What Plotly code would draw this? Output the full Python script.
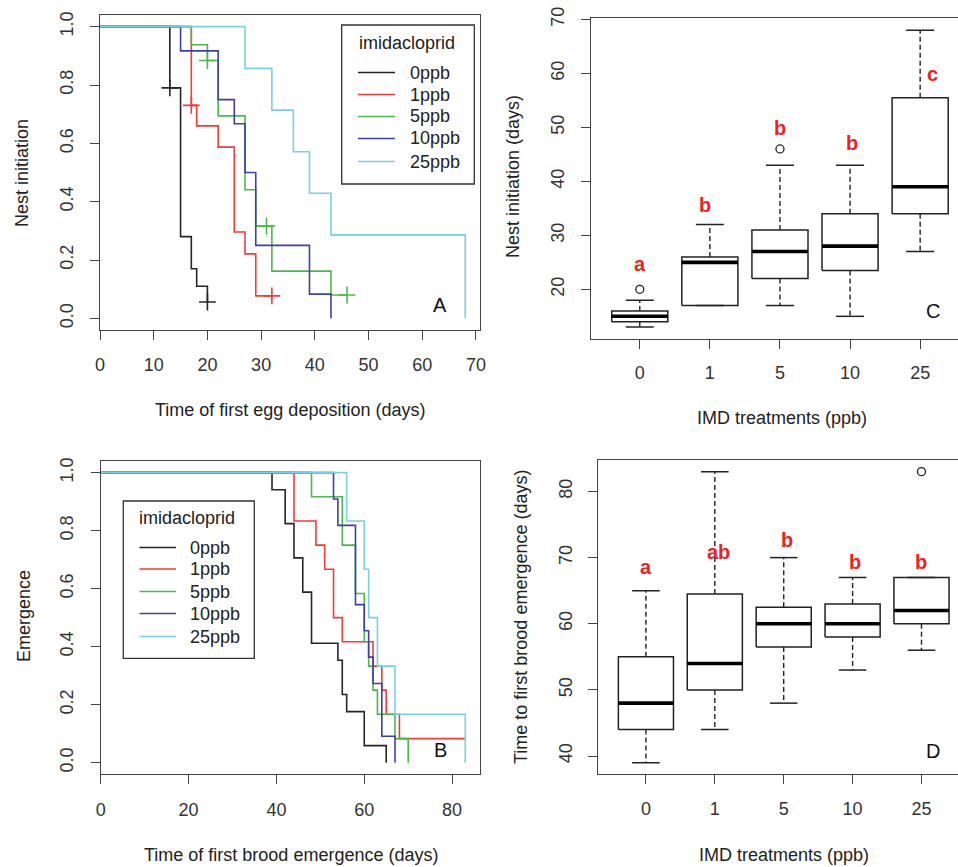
import plotly.graph_objects as go

W, H = 958, 867
FONT = "Liberation Sans, Arial, Helvetica, sans-serif"

# ---------------- data ----------------
doses = ["0ppb", "1ppb", "5ppb", "10ppb", "25ppb"]
colors = ["#262626", "#f03c3c", "#4cb84c", "#3f3fa8", "#78d0e0"]

# Panel A: Kaplan-Meier, time of first egg deposition
a_times = [
    [0, 13, 15, 17, 18, 20],
    [0, 17, 18, 22, 25, 27, 29, 32],
    [0, 17, 20, 22, 27, 29, 32, 43, 46],
    [0, 15, 22, 25, 27, 29, 39, 43],
    [0, 27, 32, 36, 39, 43, 68],
]
a_surv = [
    [1, 0.79, 0.28, 0.17, 0.11, 0.056],
    [1, 0.73, 0.66, 0.587, 0.296, 0.221, 0.077, 0.077],
    [1, 0.938, 0.884, 0.694, 0.441, 0.316, 0.162, 0.080, 0.080],
    [1, 0.917, 0.75, 0.667, 0.5, 0.25, 0.083, 0.0],
    [1, 0.857, 0.714, 0.571, 0.429, 0.286, 0.0],
]
a_cens_t = [[13, 20], [17, 32], [20, 31, 46], [], []]
a_cens_s = [[0.79, 0.056], [0.73, 0.077], [0.884, 0.316, 0.080], [], []]

# Panel B: Kaplan-Meier, time of first brood emergence
b_times = [
    [0, 39, 42, 44, 46, 48, 54, 55, 56, 60, 65],
    [0, 44, 49, 51, 53, 55, 62, 64, 65, 68, 83],
    [0, 48, 55, 58, 60, 61, 62, 63, 67, 70],
    [0, 53, 54, 58, 60, 61, 62, 64, 67],
    [0, 56, 60, 61, 63, 67, 83],
]
b_surv = [
    [1, 0.941, 0.824, 0.706, 0.588, 0.412, 0.353, 0.235, 0.176, 0.059, 0.0],
    [1, 0.833, 0.75, 0.667, 0.5, 0.417, 0.333, 0.25, 0.167, 0.083, 0.083],
    [1, 0.917, 0.75, 0.583, 0.417, 0.333, 0.25, 0.167, 0.083, 0.0],
    [1, 0.909, 0.818, 0.545, 0.455, 0.364, 0.273, 0.091, 0.0],
    [1, 0.833, 0.667, 0.5, 0.333, 0.167, 0.0],
]

# Panel C: boxplots nest initiation (days)
treatments = ["0", "1", "5", "10", "25"]
c_low = [13, 17, 17, 15, 27]
c_q1 = [14, 17, 22, 23.5, 34]
c_med = [15, 25, 27, 28, 39]
c_q3 = [16, 26, 31, 34, 55.5]
c_high = [18, 32, 43, 43, 68]
c_out_x = [1, 3]
c_out_y = [20, 46]
c_letters = ["a", "b", "b", "b", "c"]
c_letter_x = [1, 1.93, 3, 4.03, 5.17]
c_letter_y = [24.7, 35.7, 49.9, 47.1, 59.8]

# Panel D: boxplots time to first brood emergence (days)
d_low = [39, 44, 48, 53, 56]
d_q1 = [44, 50, 56.5, 58, 60]
d_med = [48, 54, 60, 60, 62]
d_q3 = [55, 64.5, 62.5, 63, 67]
d_high = [65, 83, 70, 67, 67]
d_out_x = [5]
d_out_y = [83]
d_letters = ["a", "ab", "b", "b", "b"]
d_letter_x = [1, 2.05, 3.05, 4.04, 5.0]
d_letter_y = [68.6, 70.9, 72.7, 69.4, 69.4]

legend_title = "imidacloprid"

# ---------------- figure ----------------
fig = go.Figure()

for i, d in enumerate(doses):
    fig.add_trace(go.Scatter(
        x=a_times[i], y=a_surv[i], mode="lines", line=dict(color=colors[i], width=1.6, shape="hv"),
        name=d, showlegend=False, xaxis="x", yaxis="y"))
for i, d in enumerate(doses):
    if a_cens_t[i]:
        fig.add_trace(go.Scatter(
            x=a_cens_t[i], y=a_cens_s[i], mode="markers", showlegend=False, name=d + " censored",
            marker=dict(symbol="cross-thin", size=12, line=dict(color=colors[i], width=1.6)),
            xaxis="x", yaxis="y"))

for i, d in enumerate(doses):
    fig.add_trace(go.Scatter(
        x=b_times[i], y=b_surv[i], mode="lines", line=dict(color=colors[i], width=1.6, shape="hv"),
        name=d, showlegend=False, xaxis="x2", yaxis="y2"))


def add_boxes(xa, ya, low, q1, med, q3, high, out_x, out_y):
    bx, by, mx, my, wx, wy, cx, cy = [], [], [], [], [], [], [], []
    for k in range(len(low)):
        p = k + 1
        bx += [p - 0.4, p + 0.4, p + 0.4, p - 0.4, p - 0.4, None]
        by += [q1[k], q1[k], q3[k], q3[k], q1[k], None]
        mx += [p - 0.4, p + 0.4, None]
        my += [med[k], med[k], None]
        if high[k] > q3[k]:
            wx += [p, p, None]
            wy += [q3[k], high[k], None]
        if low[k] < q1[k]:
            wx += [p, p, None]
            wy += [q1[k], low[k], None]
        cx += [p - 0.2, p + 0.2, None, p - 0.2, p + 0.2, None]
        cy += [high[k], high[k], None, low[k], low[k], None]
    fig.add_trace(go.Scatter(x=wx, y=wy, mode="lines", showlegend=False,
                             line=dict(color="#222", width=1.4, dash="5px,3px"), xaxis=xa, yaxis=ya))
    fig.add_trace(go.Scatter(x=cx, y=cy, mode="lines", showlegend=False,
                             line=dict(color="#222", width=1.5), xaxis=xa, yaxis=ya))
    fig.add_trace(go.Scatter(x=bx, y=by, mode="lines", showlegend=False,
                             line=dict(color="#222", width=1.5), xaxis=xa, yaxis=ya))
    fig.add_trace(go.Scatter(x=mx, y=my, mode="lines", showlegend=False,
                             line=dict(color="#000", width=3.6), xaxis=xa, yaxis=ya))
    fig.add_trace(go.Scatter(x=out_x, y=out_y, mode="markers", showlegend=False,
                             marker=dict(symbol="circle-open", size=8, color="#222", line=dict(width=1.3)),
                             xaxis=xa, yaxis=ya))


add_boxes("x3", "y3", c_low, c_q1, c_med, c_q3, c_high, c_out_x, c_out_y)
add_boxes("x4", "y4", d_low, d_q1, d_med, d_q3, d_high, d_out_x, d_out_y)

ann = []
shapes = []
for t, x, y in zip(c_letters, c_letter_x, c_letter_y):
    ann.append(dict(text="<b>%s</b>" % t, x=x, y=y, xref="x3", yref="y3", showarrow=False,
                    font=dict(size=20, color="#ee2222", family=FONT)))
for t, x, y in zip(d_letters, d_letter_x, d_letter_y):
    ann.append(dict(text="<b>%s</b>" % t, x=x, y=y, xref="x4", yref="y4", showarrow=False,
                    font=dict(size=20, color="#ee2222", family=FONT)))


def px(v):
    return v / W


def py(v):
    return 1 - v / H


def label(text, x, y, size=18, angle=0, color="#222", xanchor="center"):
    ann.append(dict(text=text, x=px(x), y=py(y), xref="paper", yref="paper", showarrow=False,
                    textangle=angle, xanchor=xanchor, yanchor="middle",
                    font=dict(size=size, color=color, family=FONT)))


label("Nest initiation", 22, 173, angle=-90)
label("Time of first egg deposition (days)", 290, 410)
label("Emergence", 24, 616, angle=-90)
label("Time of first brood emergence (days)", 291, 855)
label("Nest initiation (days)", 513, 177, angle=-90)
label("IMD treatments (ppb)", 782, 418)
label("Time to first brood emergence (days)", 521, 617, angle=-90)
label("IMD treatments (ppb)", 784, 855)
label("A", 440, 305, size=20, color="#111")
label("B", 440, 750, size=20, color="#111")
label("C", 933, 311, size=20, color="#111")
label("D", 933, 751, size=20, color="#111")


def legend_box(x0, y0, x1, y1, title_y, title_x, line_x0, line_x1, text_x, rows):
    shapes.append(dict(type="rect", xref="paper", yref="paper", x0=px(x0), x1=px(x1),
                       y0=py(y1), y1=py(y0), line=dict(color="#333", width=1.3), fillcolor="white",
                       layer="above"))
    label(legend_title, title_x, title_y)
    for i, d in enumerate(doses):
        shapes.append(dict(type="line", xref="paper", yref="paper", x0=px(line_x0), x1=px(line_x1),
                           y0=py(rows[i]), y1=py(rows[i]), line=dict(color=colors[i], width=1.6),
                           layer="above"))
        label(d, text_x, rows[i], xanchor="left")


legend_box(341.7, 25, 474.3, 184, 43.5, 407, 358, 395, 408, [72.5, 94.5, 116.5, 138.5, 161.5])
legend_box(123.3, 501, 254.3, 658.3, 517.5, 187, 139.5, 176, 188, [547.5, 569, 591.5, 613.5, 636.5])

tickfont = dict(size=18, color="#333", family=FONT)
common = dict(showline=True, linecolor="#444", linewidth=1.3, ticks="outside", ticklen=9,
              tickwidth=1.3, tickcolor="#444", showgrid=False, zeroline=False, tickfont=tickfont,
              automargin=False)

fig.update_layout(
    width=W, height=H, margin=dict(l=0, r=0, t=0, b=0, autoexpand=False),
    paper_bgcolor="white", plot_bgcolor="white", showlegend=False,
    font=dict(family=FONT, size=18, color="#222"),
    annotations=ann, shapes=shapes,
    xaxis=dict(domain=[px(100), px(480)], range=[0, 70.75], tickvals=list(range(0, 71, 10)),
               anchor="y", mirror=True, ticklabelstandoff=9, **common),
    yaxis=dict(domain=[py(330), py(15)], range=[-0.04, 1.04], tickvals=[0, 0.2, 0.4, 0.6, 0.8, 1.0],
               tickformat=".1f", tickangle=-90, anchor="x", mirror=True, ticklabelstandoff=10, **common),
    xaxis2=dict(domain=[px(100.7), px(480)], range=[0, 86.35], tickvals=[0, 20, 40, 60, 80],
                anchor="y2", mirror=True, ticklabelstandoff=10, **common),
    yaxis2=dict(domain=[py(774.3), py(461)], range=[-0.04, 1.04], tickvals=[0, 0.2, 0.4, 0.6, 0.8, 1.0],
                tickformat=".1f", tickangle=-90, anchor="x2", mirror=True, ticklabelstandoff=10, **common),
    xaxis3=dict(domain=[px(590.7), 1.0], range=[0.3, 5.54], tickvals=[1, 2, 3, 4, 5], ticktext=treatments,
                anchor="y3", mirror=True, ticklabelstandoff=8, **common),
    yaxis3=dict(domain=[py(339), py(18.3)], range=[10.8, 70.2], tickvals=[20, 30, 40, 50, 60, 70],
                tickangle=-90, anchor="x3", mirror=False, ticklabelstandoff=9, **common),
    xaxis4=dict(domain=[px(597.7), 1.0], range=[0.3, 5.53], tickvals=[1, 2, 3, 4, 5], ticktext=treatments,
                anchor="y4", mirror=True, ticklabelstandoff=9, **common),
    yaxis4=dict(domain=[py(774.3), py(460)], range=[37.24, 84.76], tickvals=[40, 50, 60, 70, 80],
                tickangle=-90, anchor="x4", mirror=False, ticklabelstandoff=8, **common),
)

fig.write_html("out.html", config={"displayModeBar": False},
               post_script="document.body.style.margin='0';")
